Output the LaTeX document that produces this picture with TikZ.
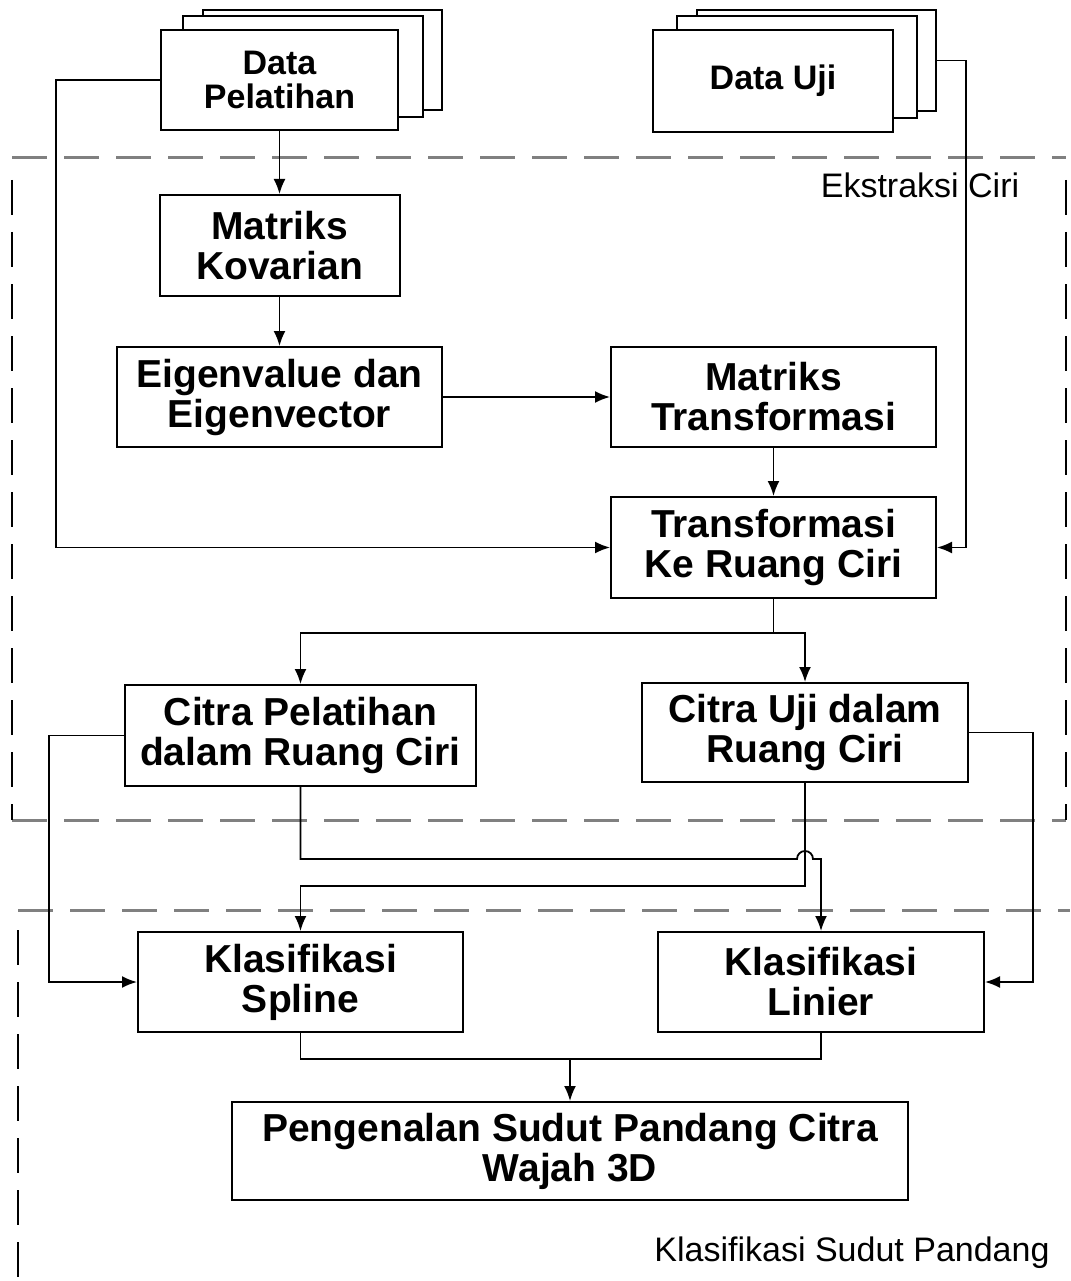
\documentclass[tikz,border=0pt]{standalone}
\usepackage{fontspec}
\setmainfont{Liberation Sans}
\usetikzlibrary{arrows.meta}
\tikzset{
  blok/.style={draw, fill=white, line width=2pt, align=center, inner sep=0pt,
    font=\bfseries\fontsize{39}{40}\selectfont},
  datablok/.style={blok, font=\bfseries\fontsize{34}{34}\selectfont},
  lembar/.style={draw, fill=white, line width=2pt},
  garis/.style={line width=1.8pt},
  batas/.style={draw=gray, line width=3pt, dash pattern=on 35pt off 17pt},
  batastegak/.style={draw=black, line width=2pt, dash pattern=on 35pt off 17pt},
  judul/.style={font=\fontsize{34}{36}\selectfont, inner sep=0pt}
}
\begin{document}
\begin{tikzpicture}[x=1pt, y=-1pt, >={Latex[length=15pt,width=12pt]}]
\useasboundingbox (0,0) rectangle (1070,1281);

% area dashed
\draw[batas] (12,158) -- (1066,158);
\draw[batas] (12,820) -- (1066,820);
\draw[batastegak] (12,180) -- (12,820);
\draw[batastegak] (1066,180) -- (1066,820);
\draw[batas] (18,910) -- (1070,910);
\draw[batastegak] (18,930) -- (18,1281);
\node[judul] (lbEks) at (920,185) {Ekstraksi Ciri};
\node[judul] (lbKls) at (852,1253) {Klasifikasi Sudut Pandang};

% tumpukan data
\node[lembar, minimum width=239pt, minimum height=100pt] (latihC) at (322.5,60) {};
\node[lembar, minimum width=240pt, minimum height=101pt] (latihB) at (303,66.5) {};
\node[datablok, minimum width=237pt, minimum height=100pt] (latih) at (279.5,80) {Data\\Pelatihan};
\node[lembar, minimum width=239pt, minimum height=101pt] (ujiC) at (816.5,60.5) {};
\node[lembar, minimum width=240pt, minimum height=102pt] (ujiB) at (797,67) {};
\node[datablok, minimum width=240pt, minimum height=102pt] (uji) at (773,81) {Data Uji};

% blok proses
\node[blok, minimum width=240pt, minimum height=101pt] (kovarian) at (279.5,245.5) {Matriks\\Kovarian};
\node[blok, minimum width=325pt, minimum height=100pt] (eigen) at (279.5,397) {Eigenvalue dan\\Eigenvector};
\node[blok, minimum width=325pt, minimum height=100pt] (mtrans) at (773.5,397) {Matriks\\Transformasi};
\node[blok, minimum width=325pt, minimum height=101pt] (transf) at (773.5,547.5) {Transformasi\\Ke Ruang Ciri};
\node[blok, minimum width=351pt, minimum height=101pt] (cpl) at (300.5,735.5) {Citra Pelatihan\\dalam Ruang Ciri};
\node[blok, minimum width=326pt, minimum height=99pt] (cuji) at (805,732.5) {Citra Uji dalam\\Ruang Ciri};
\node[blok, minimum width=325pt, minimum height=100pt] (spline) at (300.5,982) {Klasifikasi\\Spline};
\node[blok, minimum width=326pt, minimum height=100pt] (linier) at (821,982) {Klasifikasi\\Linier};
\node[blok, minimum width=676pt, minimum height=98pt] (kenal) at (570,1151) {Pengenalan Sudut Pandang Citra\\Wajah 3D};

% panah
\draw[garis,->] (latih.south) -- (kovarian.north);
\draw[garis,->] (kovarian.south) -- (eigen.north);
\draw[garis,->] (eigen.east) -- (mtrans.west);
\draw[garis,->] (mtrans.south) -- (transf.north);
\draw[garis,->] (latih.west) -- ++(-104,0) |- (transf.west);
\draw[garis,->] (ujiC.east) -- ++(29,0) |- (transf.east);
\draw[garis] (transf.south) -- ++(0,34) coordinate (cabang);
\draw[garis,->] (cabang) -| (cpl.north);
\draw[garis,->] (cabang) -| (cuji.north);
\draw[garis,->] (cpl.west) -- ++(-75,0) |- (spline.west);
\draw[garis,->] (cuji.east) -- ++(64,0) |- (linier.east);
\draw[garis,->] (cuji.south) -- ++(0,103) -| (spline.north);
\draw[garis,->] (cpl.south) -- ++(0,72) coordinate (lompat)
  -- ([xshift=-8pt]cuji.south |- lompat) arc (180:360:8) -| (linier.north);
\draw[garis] (spline.south) -- ++(0,26) coordinate (gabung) -| (linier.south);
\draw[garis,->] (gabung -| kenal.north) -- (kenal.north);
\end{tikzpicture}
\end{document}
